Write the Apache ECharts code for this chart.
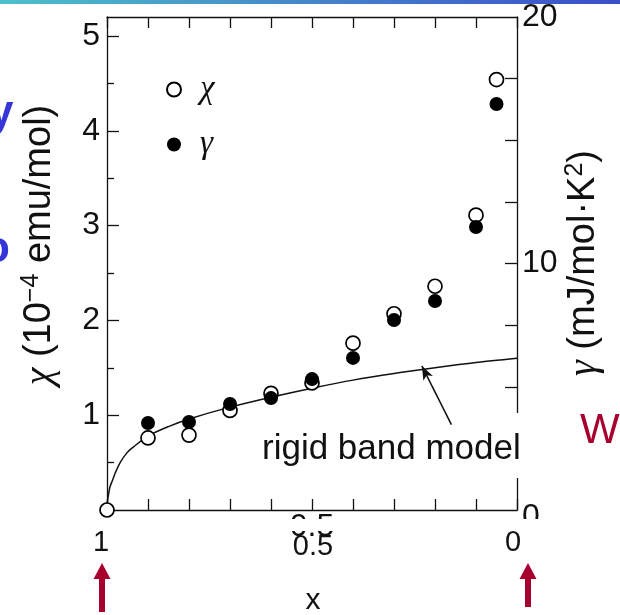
<!DOCTYPE html>
<html><head><meta charset="utf-8">
<script src="https://cdn.jsdelivr.net/npm/echarts@6/dist/echarts.min.js"></script>
<style>html,body{margin:0;padding:0;background:#fff}#c{width:620px;height:615px}</style>
</head><body><div id="c"></div>
<script>
// ---- data ----
const xValues = [1.0, 0.9, 0.8, 0.7, 0.6, 0.5, 0.4, 0.3, 0.2, 0.1, 0.05];
const chiValues = [0, 0.76, 0.79, 1.05, 1.23, 1.34, 1.76, 2.07, 2.36, 3.11, 4.54];
const gammaXValues = [0.9, 0.8, 0.7, 0.6, 0.5, 0.4, 0.3, 0.2, 0.1, 0.05];
const gammaValues = [3.53, 3.57, 4.30, 4.54, 5.31, 6.17, 7.71, 8.48, 11.48, 16.47];
const rigidX = [1, 0.999, 0.996, 0.993, 0.986, 0.98, 0.968, 0.952, 0.937, 0.9, 0.85, 0.8, 0.7, 0.6, 0.5, 0.4, 0.3, 0.2, 0.1, 0];
const rigidChi = [0, 0.09, 0.17, 0.24, 0.32, 0.39, 0.50, 0.60, 0.66, 0.78, 0.88, 0.96, 1.085, 1.19, 1.285, 1.37, 1.44, 1.50, 1.555, 1.60];
const arrowFrom = [0.16, 0.90];
const arrowTo = [0.232, 1.52];
const chiTickLabels = [1, 2, 3, 4, 5];
const chiMinorTicks = [0.5, 1.5, 2.5, 3.5, 4.5];
const gammaTickLabels = [0, 10, 20];
const gammaTicks = [2.5, 5, 7.5, 10, 12.5, 15, 17.5];
const xTickLabels = [0.5];
const slideXLabels = ['1', '0.5', '0'];
const seriesNames = ['\u03c7', '\u03b3'];

const black = '#111';
const SANS = 'Liberation Sans, Arial, sans-serif';
const SERIF = 'Liberation Serif, Times New Roman, serif';
const DARKRED = '#a8002e';
const BLUE = '#3636d8';

const lineStyle = {color: black, width: 1.3};
function xAx(pos, labels) {
  return {
    type: 'value', min: 0, max: 1, interval: 0.1, inverse: true, position: pos,
    axisLine: {show: true, onZero: false, lineStyle},
    axisTick: {show: true, inside: true, length: 11, lineStyle},
    axisLabel: labels ? {show: true, customValues: labels, fontSize: 32, fontFamily: SANS, color: black, margin: 1} : {show: false},
    splitLine: {show: false}
  };
}

const chart = echarts.init(document.getElementById('c'), null, {renderer: 'canvas'});
const option = {
  animation: false,
  backgroundColor: '#fff',
  grid: {left: 107, top: 17, width: 410, height: 493, outerBoundsMode: 'none', containLabel: false},
  legend: {
    orient: 'vertical', left: 161, top: 68, itemWidth: 14, itemHeight: 14, itemGap: 22,
    data: seriesNames,
    textStyle: {fontFamily: SERIF, fontStyle: 'italic', fontSize: 33, lineHeight: 26, color: black, padding: [0, 0, 0, 14]},
    selectedMode: false
  },
  xAxis: [xAx('bottom', xTickLabels), xAx('top', null)],
  yAxis: [
    {type: 'value', min: 0, max: 5.2, position: 'left', offset: 0,
     axisLine: {show: true, onZero: false, lineStyle},
     axisTick: {show: true, inside: true, length: 12, customValues: chiTickLabels, lineStyle},
     axisLabel: {show: true, customValues: chiTickLabels, fontSize: 32, fontFamily: SANS, color: black, margin: 7},
     splitLine: {show: false}},
    {type: 'value', min: 0, max: 5.2, position: 'left', offset: 0,
     axisLine: {show: false, onZero: false},
     axisTick: {show: true, inside: true, length: 7, customValues: chiMinorTicks, lineStyle},
     axisLabel: {show: false}, splitLine: {show: false}},
    {type: 'value', min: 0, max: 20, position: 'right', offset: 0,
     axisLine: {show: true, onZero: false, lineStyle},
     axisTick: {show: true, inside: true, length: 12, customValues: gammaTicks, lineStyle},
     axisLabel: {show: true, customValues: gammaTickLabels, fontSize: 32, fontFamily: SANS, color: black, margin: 5,
       formatter: v => v === 0 ? '{z|0}' : String(v),
       rich: {z: {fontSize: 32, fontFamily: SANS, color: black, padding: [14, 0, 0, 0]}}},
     splitLine: {show: false}}
  ],
  series: [
    {name: 'rigid band model', type: 'line', xAxisIndex: 0, yAxisIndex: 0,
     data: rigidX.map((x, i) => [x, rigidChi[i]]),
     symbol: 'none', showSymbol: false, smooth: 0.3, clip: false,
     lineStyle: {color: black, width: 1.5}, z: 2,
     markLine: {silent: true, symbol: ['none', 'arrow'], symbolSize: [8, 14],
       label: {show: false}, lineStyle: {color: black, width: 1.5, type: 'solid'},
       data: [[{coord: arrowFrom}, {coord: arrowTo}]]}},
    {name: seriesNames[0], type: 'scatter', xAxisIndex: 0, yAxisIndex: 0,
     data: xValues.map((x, i) => [x, chiValues[i]]),
     symbol: 'circle', symbolSize: 14, clip: false,
     itemStyle: {color: '#fff', borderColor: '#000', borderWidth: 1.7, opacity: 1}, z: 3},
    {name: seriesNames[1], type: 'scatter', xAxisIndex: 0, yAxisIndex: 2,
     data: gammaXValues.map((x, i) => [x, gammaValues[i]]),
     symbol: 'circle', symbolSize: 14, clip: false,
     itemStyle: {color: '#000', opacity: 1}, z: 4}
  ],
  graphic: [
    {type: 'rect', left: 0, top: 0, z: 50, shape: {width: 620, height: 4},
     style: {fill: new echarts.graphic.LinearGradient(0, 0, 1, 0, [{offset: 0, color: '#4fbecb'}, {offset: 1, color: '#3a4ec8'}])}},
    {type: 'text', x: -11, y: 114, z: 50, style: {text: 'y', font: 'bold 44px ' + SANS, fill: BLUE, verticalAlign: 'middle'}},
    {type: 'text', x: -17, y: 250, z: 50, style: {text: 'o', font: 'bold 44px ' + SANS, fill: BLUE, verticalAlign: 'middle'}},
    {type: 'text', x: 40, y: 245, rotation: Math.PI / 2, z: 50,
     style: {text: '{g|\u03c7}{b| (10}{s|\u22124}{b| emu/mol)}', align: 'center', verticalAlign: 'middle', fill: black,
       rich: {g: {fontFamily: SERIF, fontStyle: 'italic', fontSize: 40, lineHeight: 42},
              b: {fontFamily: SANS, fontSize: 38, lineHeight: 42},
              s: {fontFamily: SANS, fontSize: 25, lineHeight: 25, verticalAlign: 'top'}}}},
    {type: 'text', x: 584, y: 263, rotation: Math.PI / 2, z: 50,
     style: {text: '{g|\u03b3}{b| (mJ/mol\u00b7K}{s|2}{b|)}', align: 'center', verticalAlign: 'middle', fill: black,
       rich: {g: {fontFamily: SERIF, fontStyle: 'italic', fontSize: 40, lineHeight: 42},
              b: {fontFamily: SANS, fontSize: 38, lineHeight: 42},
              s: {fontFamily: SANS, fontSize: 25, lineHeight: 25, verticalAlign: 'top'}}}},
    {type: 'rect', x: 255, y: 413, z: 1, shape: {width: 272, height: 65}, style: {fill: '#fff'}},
    {type: 'text', x: 262, y: 449, z: 1, style: {text: 'rigid band model', font: '35px ' + SANS, fill: black, verticalAlign: 'middle'}},
    {type: 'rect', x: 112, y: 519, z: 50, shape: {width: 460, height: 12}, style: {fill: '#fff'}},
    {type: 'text', x: 101, y: 543, z: 60, style: {text: slideXLabels[0], font: '29px ' + SANS, fill: black, align: 'center', verticalAlign: 'middle'}},
    {type: 'text', x: 313, y: 547, z: 60, style: {text: slideXLabels[1], font: '29px ' + SANS, fill: black, align: 'center', verticalAlign: 'middle'}},
    {type: 'text', x: 513, y: 543, z: 60, style: {text: slideXLabels[2], font: '29px ' + SANS, fill: black, align: 'center', verticalAlign: 'middle'}},
    {type: 'text', x: 313, y: 601, z: 60, style: {text: 'x', font: '30px ' + SANS, fill: black, align: 'center', verticalAlign: 'middle'}},
    {type: 'text', x: 580, y: 431, z: 60, style: {text: 'W', font: '42px ' + SANS, fill: DARKRED, align: 'left', verticalAlign: 'middle'}},
    {type: 'polygon', z: 60, shape: {points: [[102, 563], [110.5, 579], [105, 579], [105, 612], [99, 612], [99, 579], [93.5, 579]]}, style: {fill: DARKRED}},
    {type: 'polygon', z: 60, shape: {points: [[528, 563], [536.5, 579], [531, 579], [531, 607], [525, 607], [525, 579], [519.5, 579]]}, style: {fill: DARKRED}}
  ]
};
chart.setOption(option);
</script>
</body></html>
